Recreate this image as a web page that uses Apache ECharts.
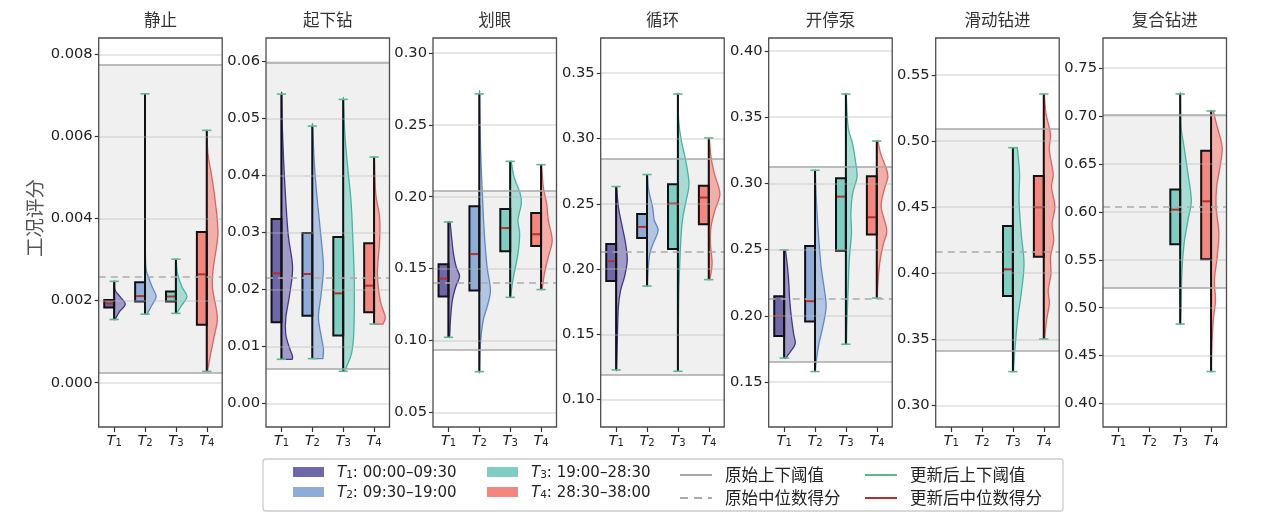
<!DOCTYPE html>
<html><head><meta charset="utf-8">
<script src="https://cdn.jsdelivr.net/npm/echarts/dist/echarts.min.js"></script>
<style>html,body{margin:0;padding:0;background:#fff}#c{width:1271px;height:518px}</style>
</head><body><div id="c"></div><script>
const FONT = "'DejaVu Sans','Noto Sans CJK SC',sans-serif";
const CJK = "'Noto Sans CJK SC','DejaVu Sans',sans-serif";
const panelNames = ['静止','起下钻','划眼','循环','开停泵','滑动钻进','复合钻进'];
const periods = ['T1','T2','T3','T4'];
const periodRanges = ['00:00–09:30','09:30–19:00','19:00–28:30','28:30–38:00'];
const yAxisTitle = '工况评分';

// y axis ranges and tick labels
const yMin = [-0.00108, -0.0041, 0.0398, 0.079, 0.116, 0.2836, 0.3756];
const yMax = [0.0084, 0.0641, 0.3104, 0.377, 0.4098, 0.578, 0.7813];
const yTicks = [
  [0, 0.002, 0.004, 0.006, 0.008],
  [0, 0.01, 0.02, 0.03, 0.04, 0.05, 0.06],
  [0.05, 0.10, 0.15, 0.20, 0.25, 0.30],
  [0.10, 0.15, 0.20, 0.25, 0.30, 0.35],
  [0.15, 0.20, 0.25, 0.30, 0.35, 0.40],
  [0.30, 0.35, 0.40, 0.45, 0.50, 0.55],
  [0.40, 0.45, 0.50, 0.55, 0.60, 0.65, 0.70, 0.75]
];
const yDecimals = [3, 2, 2, 2, 2, 2, 2];

// original thresholds and median
const origUpper = [0.00776, 0.05977, 0.2038, 0.2843, 0.3127, 0.5091, 0.7014];
const origLower = [0.000234, 0.00613, 0.0938, 0.1189, 0.1656, 0.3416, 0.5206];
const origMedian = [0.00259, 0.02208, 0.1402, 0.2131, 0.2132, 0.4163, 0.6054];

// box stats per period: [min, q1, median, q3, max]
const boxStill = [
  [0.00154, 0.00183, 0.00193, 0.002015, 0.00247],
  [0.00167, 0.00198, 0.00211, 0.00245, 0.00704],
  [0.00169, 0.00198, 0.0021, 0.00222, 0.00301],
  [0.000276, 0.00141, 0.00264, 0.00367, 0.00615]
];
const boxTrip = [
  [0.00777, 0.01425, 0.02284, 0.03236, 0.05427],
  [0.00789, 0.01542, 0.02272, 0.0299, 0.04866],
  [0.00566, 0.01192, 0.01933, 0.0292, 0.05334],
  [0.01395, 0.016, 0.02068, 0.0281, 0.04323]
];
const boxReam = [
  [0.1022, 0.1305, 0.143, 0.153, 0.1824],
  [0.0783, 0.1347, 0.1601, 0.1933, 0.2715],
  [0.13, 0.162, 0.1782, 0.1915, 0.2246],
  [0.1354, 0.1657, 0.1739, 0.1887, 0.2223]
];
const boxCirc = [
  [0.1227, 0.1909, 0.206, 0.2192, 0.2632],
  [0.187, 0.2238, 0.2323, 0.2422, 0.2724],
  [0.1217, 0.2154, 0.2502, 0.2649, 0.3341],
  [0.1919, 0.2343, 0.2548, 0.2639, 0.3004]
];
const boxPump = [
  [0.1681, 0.1847, 0.1996, 0.2147, 0.2497],
  [0.1579, 0.1956, 0.211, 0.2527, 0.3099],
  [0.1785, 0.2492, 0.29, 0.3039, 0.3675],
  [0.2134, 0.2613, 0.2744, 0.3054, 0.332]
];
const boxSlide = [
  null, null,
  [0.3255, 0.3827, 0.4029, 0.4357, 0.495],
  [0.3502, 0.4125, 0.4499, 0.4736, 0.5356]
];
const boxRotary = [
  null, null,
  [0.483, 0.5661, 0.6023, 0.6232, 0.7229],
  [0.4334, 0.5505, 0.611, 0.6638, 0.7052]
];

// violin profiles per period: [value, relative half-width]
const violinStill = [
  [[0.00247,0.04],[0.00245,0.05],[0.00225,0.1],[0.00209,0.55],[0.00191,1.0],[0.00172,0.45],[0.00156,0.12],[0.00154,0.08]],
  [[0.00704,0.01],[0.00363,0.02],[0.00282,0.08],[0.00258,0.3],[0.00233,0.65],[0.0021,1.0],[0.00188,0.6],[0.00168,0.2],[0.00167,0.18]],
  [[0.00301,0.03],[0.00266,0.15],[0.00233,0.55],[0.0021,1.0],[0.00188,0.5],[0.0017,0.1],[0.00169,0.08]],
  [[0.00615,0.03],[0.00559,0.1],[0.0051,0.4],[0.00445,0.75],[0.00363,1.0],[0.00282,0.6],[0.00233,0.5],[0.0016,0.95],[0.00111,0.65],[0.00063,0.3],[0.0003,0.08],[0.000276,0.06]]
];
const violinTrip = [
  [[0.05427,0.02],[0.0540,0.03],[0.0473,0.1],[0.0386,0.3],[0.0298,0.6],[0.0240,1.0],[0.0193,0.75],[0.0152,0.4],[0.0123,0.38],[0.0099,0.7],[0.0083,1.0],[0.00777,0.95]],
  [[0.04866,0.02],[0.0485,0.03],[0.0415,0.2],[0.0356,0.45],[0.0298,0.75],[0.0240,1.0],[0.0193,0.8],[0.0152,0.55],[0.0123,0.75],[0.0096,1.0],[0.00789,0.95]],
  [[0.05334,0.02],[0.0532,0.03],[0.0473,0.15],[0.0415,0.4],[0.0356,0.7],[0.0298,0.85],[0.0210,1.0],[0.0123,0.95],[0.0088,0.75],[0.0067,0.35],[0.00566,0.1]],
  [[0.04323,0.03],[0.0368,0.15],[0.0327,0.5],[0.0286,0.5],[0.0228,0.3],[0.0181,0.55],[0.0152,1.0],[0.01395,0.8]]
];
const violinReam = [
  [[0.1824,0.15],[0.1743,0.25],[0.1604,0.45],[0.1511,0.7],[0.1446,1.0],[0.1372,0.65],[0.1279,0.35],[0.1163,0.2],[0.1047,0.12],[0.1022,0.1]],
  [[0.2715,0.02],[0.2706,0.03],[0.2323,0.12],[0.1975,0.3],[0.1743,0.45],[0.1511,0.7],[0.1349,1.0],[0.1233,0.7],[0.1140,0.35],[0.0978,0.1],[0.0792,0.02],[0.0783,0.02]],
  [[0.2246,0.1],[0.2137,0.35],[0.2021,0.9],[0.1952,1.0],[0.1836,0.7],[0.1743,0.85],[0.1604,0.7],[0.1465,0.35],[0.1372,0.15],[0.1300,0.05]],
  [[0.2223,0.05],[0.2068,0.2],[0.1952,0.5],[0.1836,0.65],[0.1697,1.0],[0.1581,0.65],[0.1465,0.3],[0.1354,0.1]]
];
const violinCirc = [
  [[0.2632,0.05],[0.2476,0.2],[0.2323,0.55],[0.2195,0.85],[0.2067,1.0],[0.1940,0.75],[0.1837,0.4],[0.1710,0.2],[0.1505,0.12],[0.1250,0.05],[0.1227,0.05]],
  [[0.2724,0.05],[0.2604,0.15],[0.2476,0.5],[0.2374,0.65],[0.2297,1.0],[0.2195,0.55],[0.2118,0.25],[0.1991,0.1],[0.1870,0.05]],
  [[0.3341,0.02],[0.3331,0.02],[0.3140,0.07],[0.2987,0.3],[0.2833,0.7],[0.2655,1.0],[0.2527,0.75],[0.2399,0.45],[0.2272,0.3],[0.2067,0.18],[0.1812,0.08],[0.1505,0.04],[0.1217,0.02]],
  [[0.3004,0.05],[0.2859,0.2],[0.2731,0.5],[0.2578,1.0],[0.2450,0.55],[0.2323,0.2],[0.2195,0.15],[0.2042,0.3],[0.1919,0.1]]
];
const violinPump = [
  [[0.2497,0.12],[0.2369,0.3],[0.2243,0.42],[0.2117,0.5],[0.1991,0.65],[0.1865,0.85],[0.1790,1.0],[0.1727,0.55],[0.1681,0.15]],
  [[0.3099,0.03],[0.2872,0.12],[0.2621,0.3],[0.2369,0.55],[0.2193,0.85],[0.2067,1.0],[0.1916,0.7],[0.1790,0.35],[0.1664,0.12],[0.1579,0.03]],
  [[0.3675,0.03],[0.3426,0.2],[0.3300,0.6],[0.3175,0.85],[0.3049,1.0],[0.2923,0.6],[0.2772,0.45],[0.2621,0.5],[0.2419,0.3],[0.2193,0.2],[0.1966,0.1],[0.1785,0.05]],
  [[0.3320,0.1],[0.3225,0.35],[0.3124,0.8],[0.3049,1.0],[0.2948,0.65],[0.2822,0.4],[0.2646,0.9],[0.2545,0.6],[0.2419,0.3],[0.2268,0.12],[0.2134,0.05]]
];
const violinSlide = [
  null, null,
  [[0.4950,0.4],[0.4753,0.6],[0.4552,0.55],[0.4299,0.75],[0.4072,1.0],[0.3845,0.75],[0.3669,0.45],[0.3442,0.2],[0.3255,0.05]],
  [[0.5356,0.05],[0.5208,0.2],[0.5056,0.6],[0.4930,0.5],[0.4753,0.85],[0.4653,0.7],[0.4501,1.0],[0.4375,0.75],[0.4249,0.9],[0.4123,0.6],[0.3997,0.65],[0.3870,0.4],[0.3770,0.5],[0.3643,0.25],[0.3502,0.08]]
];
const violinRotary = [
  null, null,
  [[0.7229,0.02],[0.7215,0.02],[0.6885,0.08],[0.6676,0.35],[0.6398,0.7],[0.6120,1.0],[0.5912,0.7],[0.5668,0.35],[0.5355,0.15],[0.5008,0.08],[0.4830,0.03]],
  [[0.7052,0.2],[0.6885,0.55],[0.6676,1.0],[0.6468,0.8],[0.6259,0.5],[0.6051,0.45],[0.5773,0.7],[0.5529,0.55],[0.5286,0.3],[0.5077,0.4],[0.4869,0.2],[0.4625,0.08],[0.4334,0.03]]
];

const boxStats = [boxStill, boxTrip, boxReam, boxCirc, boxPump, boxSlide, boxRotary];
const violins = [violinStill, violinTrip, violinReam, violinCirc, violinPump, violinSlide, violinRotary];

const boxFill = ['#6e68ab', '#8fabd8', '#80cdc4', '#f2877f'];
const violinFill = ['rgba(110,104,171,0.62)', 'rgba(143,171,216,0.62)', 'rgba(128,205,196,0.62)', 'rgba(242,135,127,0.62)'];
const violinEdge = ['#3a3896', '#5b89cf', '#3bb8a8', '#e95f5a'];
const capColor = '#5cb98c', medColor = '#b3302e';

const gridLeft = [98.7, 266, 433, 600.7, 768.7, 935.7, 1103];
const gridW = 123.5, gridTop = 38, gridH = 389;

function makeRender(g, t) {
  return function (params, api) {
    const cat = api.value(0);
    const band = api.size([1, 0])[0];
    const mn = api.value(1), q1 = api.value(2), md = api.value(3), q3 = api.value(4), mx = api.value(5);
    const cx = api.coord([cat, md])[0];
    const y = v => api.coord([cat, v])[1];
    const boxW = band * 0.32, vW = band * 0.36, capW = band * 0.15;
    const prof = violins[g][t];
    const pts = prof.map(p => [cx + p[1] * vW, y(p[0])]);
    let d = 'M' + cx + ',' + pts[0][1] + 'L' + pts[0][0] + ',' + pts[0][1];
    for (let i = 0; i < pts.length - 1; i++) {
      const p0 = pts[i - 1] || pts[i], p1 = pts[i], p2 = pts[i + 1], p3 = pts[i + 2] || pts[i + 1];
      const c1x = p1[0] + (p2[0] - p0[0]) / 6, c1y = p1[1] + (p2[1] - p0[1]) / 6;
      const c2x = p2[0] - (p3[0] - p1[0]) / 6, c2y = p2[1] - (p3[1] - p1[1]) / 6;
      d += 'C' + c1x + ',' + c1y + ',' + c2x + ',' + c2y + ',' + p2[0] + ',' + p2[1];
    }
    d += 'L' + cx + ',' + pts[pts.length - 1][1] + 'Z';
    return {
      type: 'group',
      children: [
        { type: 'path', shape: { pathData: d }, style: { fill: violinFill[t], stroke: violinEdge[t], lineWidth: 1.3 } },
        { type: 'rect', shape: { x: cx - boxW, y: y(q3), width: boxW, height: y(q1) - y(q3) },
          style: { fill: boxFill[t], stroke: '#111', lineWidth: 2 } },
        { type: 'line', shape: { x1: cx - boxW + 1, y1: y(md), x2: cx, y2: y(md) }, style: { stroke: medColor, lineWidth: 2 } },
        { type: 'line', shape: { x1: cx, y1: y(mx), x2: cx, y2: y(mn) }, style: { stroke: '#111', lineWidth: 2 } },
        { type: 'line', shape: { x1: cx - capW, y1: y(mx), x2: cx + capW, y2: y(mx) }, style: { stroke: capColor, lineWidth: 1.6 } },
        { type: 'line', shape: { x1: cx - capW, y1: y(mn), x2: cx + capW, y2: y(mn) }, style: { stroke: capColor, lineWidth: 1.6 } }
      ]
    };
  };
}

const series = [];
panelNames.forEach((n, g) => {
  series.push({
    type: 'line', name: '原始上下阈值', xAxisIndex: g, yAxisIndex: g, data: [], symbol: 'none', z: 1, silent: true,
    itemStyle: { color: '#a8a8a8' },
    lineStyle: { color: '#a8a8a8', width: 1.6 },
    markArea: { silent: true, itemStyle: { color: '#f0f0f0' }, data: [[{ yAxis: origLower[g] }, { yAxis: origUpper[g] }]] },
    markLine: { silent: true, precision: 8, symbol: ['none', 'none'], label: { show: false }, emphasis: { disabled: true },
      lineStyle: { color: '#a8a8a8', width: 1.6, type: 'solid' },
      data: [{ yAxis: origUpper[g] }, { yAxis: origLower[g] }] }
  });
  series.push({
    type: 'line', name: '原始中位数得分', xAxisIndex: g, yAxisIndex: g, data: [], symbol: 'none', z: 1, silent: true,
    itemStyle: { color: '#aaaaaa' },
    lineStyle: { color: '#aaaaaa', width: 1.6, type: [8, 6] },
    markLine: { silent: true, precision: 8, symbol: ['none', 'none'], label: { show: false }, emphasis: { disabled: true },
      lineStyle: { color: '#aaaaaa', width: 1.6, type: [7, 5] },
      data: [{ yAxis: origMedian[g] }] }
  });
  periods.forEach((p, t) => {
    const s = boxStats[g][t];
    if (!s) return;
    series.push({
      type: 'custom', name: p, xAxisIndex: g, yAxisIndex: g, z: 3, silent: true,
      itemStyle: { color: boxFill[t] },
      data: [[t].concat(s)], encode: { x: 0, y: [1, 2, 3, 4, 5] },
      renderItem: makeRender(g, t)
    });
  });
});
series.push({ type: 'line', name: '更新后上下阈值', data: [], symbol: 'none', itemStyle: { color: capColor }, lineStyle: { color: capColor, width: 1.6 } });
series.push({ type: 'line', name: '更新后中位数得分', data: [], symbol: 'none', itemStyle: { color: medColor }, lineStyle: { color: medColor, width: 1.6 } });

const axisRich = {
  i: { fontStyle: 'italic', fontSize: 14.5, fontFamily: FONT, color: '#222', lineHeight: 18, verticalAlign: 'bottom' },
  s: { fontSize: 10, fontFamily: FONT, color: '#222', lineHeight: 7, verticalAlign: 'bottom' }
};
const legendRich = {
  i: { fontStyle: 'italic', fontSize: 15, fontFamily: FONT, color: '#222', lineHeight: 18, verticalAlign: 'bottom', padding: [0, 0, 0, 8] },
  s: { fontSize: 10.5, fontFamily: FONT, color: '#222', lineHeight: 7, verticalAlign: 'bottom' },
  n: { fontSize: 15, fontFamily: FONT, color: '#222', lineHeight: 18, verticalAlign: 'bottom' }
};

const legendBase = { orient: 'vertical', itemGap: 5, selectedMode: false, top: 466, padding: 0 };
const lineLegendItem = name => ({ name: name, itemStyle: { opacity: 0 } });
const lineLegendText = { fontSize: 16.5, fontFamily: CJK, color: '#222', lineHeight: 18, padding: [0, 0, 0, 8] };
const tLegendFmt = name => '{i|T}{s|' + name.slice(1) + '}{n|: ' + periodRanges[periods.indexOf(name)] + '}';

const option = {
  animation: false,
  textStyle: { fontFamily: FONT },
  grid: panelNames.map((n, g) => ({ left: gridLeft[g], top: gridTop, width: gridW, height: gridH, show: true,
    borderColor: '#4d4d4d', borderWidth: 1.3, backgroundColor: 'rgba(0,0,0,0)', z: 6 })),
  xAxis: panelNames.map((n, g) => ({
    type: 'category', gridIndex: g, data: periods,
    axisLine: { show: false, onZero: false },
    axisTick: { show: true, alignWithLabel: true, interval: 0, length: 5, lineStyle: { color: '#333', width: 1.2 } },
    axisLabel: { interval: 0, margin: 3, formatter: v => '{i|T}{s|' + v.slice(1) + '}', rich: axisRich },
    splitLine: { show: false }
  })),
  yAxis: panelNames.map((n, g) => ({
    type: 'value', gridIndex: g, min: yMin[g], max: yMax[g], z: 5,
    axisLine: { show: false },
    axisTick: { show: true, length: 4, customValues: yTicks[g], lineStyle: { color: '#333', width: 1.2 } },
    axisLabel: { customValues: yTicks[g], formatter: v => v.toFixed(yDecimals[g]), color: '#222', fontSize: 14.7, fontFamily: FONT, margin: 6 },
    splitLine: { show: true, lineStyle: { color: 'rgba(185,185,185,0.45)', width: 1.6 } }
  })),
  legend: [
    Object.assign({}, legendBase, { left: 293, itemWidth: 31, itemHeight: 10,
      data: periods.slice(0, 2).map((p, t) => ({ name: p, icon: 'rect', itemStyle: { color: boxFill[t] } })),
      formatter: tLegendFmt, textStyle: { rich: legendRich } }),
    Object.assign({}, legendBase, { left: 487, itemWidth: 31, itemHeight: 10,
      data: periods.slice(2, 4).map((p, t) => ({ name: p, icon: 'rect', itemStyle: { color: boxFill[t + 2] } })),
      formatter: tLegendFmt, textStyle: { rich: legendRich } }),
    Object.assign({}, legendBase, { left: 679, itemWidth: 32, itemHeight: 10,
      data: ['原始上下阈值', '原始中位数得分'].map(lineLegendItem), textStyle: lineLegendText }),
    Object.assign({}, legendBase, { left: 864, itemWidth: 32, itemHeight: 10,
      data: ['更新后上下阈值', '更新后中位数得分'].map(lineLegendItem), textStyle: lineLegendText })
  ],
  graphic: [
    { type: 'rect', z: 0, shape: { x: 263, y: 459, width: 800, height: 52, r: 3 }, style: { fill: '#fff', stroke: '#cccccc', lineWidth: 1.3 } },
    { type: 'text', z: 10, x: 35, y: 218, rotation: Math.PI / 2,
      style: { text: yAxisTitle, textAlign: 'center', textVerticalAlign: 'middle', align: 'center', verticalAlign: 'middle', fontSize: 19.5, fill: '#555', fontFamily: CJK } }
  ].concat(panelNames.map((n, g) => ({
    type: 'text', z: 10, x: gridLeft[g] + gridW / 2, y: 20,
    style: { text: n, textAlign: 'center', textVerticalAlign: 'middle', align: 'center', verticalAlign: 'middle', fontSize: 16.5, fill: '#333', fontFamily: CJK }
  }))),
  series: series
};

const chart = echarts.init(document.getElementById('c'), null, { renderer: 'canvas' });
chart.setOption(option);
</script></body></html>
